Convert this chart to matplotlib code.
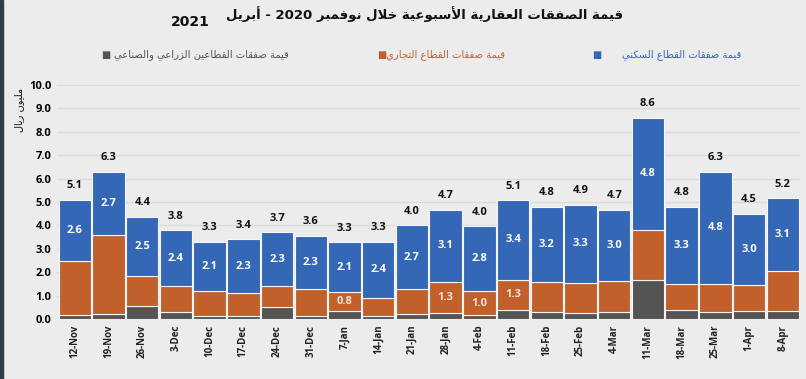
import re
import numpy as np
import matplotlib
matplotlib.use("Agg")
import matplotlib.pyplot as plt

# ---- data (million riyals) ----
weeks = ["12-Nov", "19-Nov", "26-Nov", "3-Dec", "10-Dec", "17-Dec", "24-Dec", "31-Dec",
         "7-Jan", "14-Jan", "21-Jan", "28-Jan", "4-Feb", "11-Feb", "18-Feb", "25-Feb",
         "4-Mar", "11-Mar", "18-Mar", "25-Mar", "1-Apr", "8-Apr"]
agri_ind = [0.18, 0.20, 0.55, 0.30, 0.15, 0.15, 0.50, 0.15, 0.35, 0.15, 0.20,
            0.28, 0.18, 0.38, 0.32, 0.28, 0.32, 1.65, 0.38, 0.30, 0.35, 0.35]
commercial = [2.32, 3.40, 1.30, 1.10, 1.05, 0.95, 0.90, 1.12, 0.80, 0.75, 1.10,
              1.30, 1.00, 1.30, 1.28, 1.27, 1.32, 2.15, 1.12, 1.20, 1.12, 1.72]
residential = [2.60, 2.70, 2.52, 2.40, 2.10, 2.30, 2.30, 2.30, 2.14, 2.40, 2.70,
               3.10, 2.80, 3.40, 3.20, 3.33, 3.04, 4.80, 3.30, 4.80, 3.03, 3.10]
commercial_labelled = ["7-Jan", "28-Jan", "4-Feb", "11-Feb"]

title_main = "قيمة الصفقات العقارية الأسبوعية خلال نوفمبر 2020 - أبريل"
title_year = "2021"
leg_res = "قيمة صفقات القطاع السكني"
leg_com = "قيمة صفقات القطاع التجاري"
leg_agr = "قيمة صفقات القطاعين الزراعي والصناعي"
y_title = "مليون ريال"

# ---- tiny arabic shaper (matplotlib has no text shaping) ----
# isolated, final, initial, medial
FORMS = {
    "ا": ("\uFE8D", "\uFE8E", None, None), "أ": ("\uFE83", "\uFE84", None, None),
    "ب": ("\uFE8F", "\uFE90", "\uFE91", "\uFE92"), "ة": ("\uFE93", "\uFE94", None, None),
    "ت": ("\uFE95", "\uFE96", "\uFE97", "\uFE98"), "ج": ("\uFE9D", "\uFE9E", "\uFE9F", "\uFEA0"),
    "خ": ("\uFEA5", "\uFEA6", "\uFEA7", "\uFEA8"), "ر": ("\uFEAD", "\uFEAE", None, None),
    "ز": ("\uFEAF", "\uFEB0", None, None), "س": ("\uFEB1", "\uFEB2", "\uFEB3", "\uFEB4"),
    "ص": ("\uFEB9", "\uFEBA", "\uFEBB", "\uFEBC"), "ط": ("\uFEC1", "\uFEC2", "\uFEC3", "\uFEC4"),
    "ع": ("\uFEC9", "\uFECA", "\uFECB", "\uFECC"), "ف": ("\uFED1", "\uFED2", "\uFED3", "\uFED4"),
    "ق": ("\uFED5", "\uFED6", "\uFED7", "\uFED8"), "ك": ("\uFED9", "\uFEDA", "\uFEDB", "\uFEDC"),
    "ل": ("\uFEDD", "\uFEDE", "\uFEDF", "\uFEE0"), "م": ("\uFEE1", "\uFEE2", "\uFEE3", "\uFEE4"),
    "ن": ("\uFEE5", "\uFEE6", "\uFEE7", "\uFEE8"), "و": ("\uFEED", "\uFEEE", None, None),
    "ي": ("\uFEF1", "\uFEF2", "\uFEF3", "\uFEF4"),
    "لا": ("\uFEFB", "\uFEFC", None, None), "لأ": ("\uFEF7", "\uFEF8", None, None),
}


def ar(s):
    toks, i = [], 0
    while i < len(s):
        if s[i] == "ل" and i + 1 < len(s) and s[i + 1] in "اأ":
            toks.append(s[i:i + 2]); i += 2
        else:
            toks.append(s[i]); i += 1
    out = []
    for k, t in enumerate(toks):
        if t not in FORMS:
            out.append(t); continue
        f = FORMS[t]
        prev = k > 0 and toks[k - 1] in FORMS and FORMS[toks[k - 1]][2] is not None
        nxt = f[2] is not None and k + 1 < len(toks) and toks[k + 1] in FORMS
        if prev and nxt:
            out.append(f[3])
        elif prev:
            out.append(f[1])
        elif nxt:
            out.append(f[2])
        else:
            out.append(f[0])
    vis = "".join(out)[::-1]
    return re.sub(r"[0-9.]+", lambda m: m.group()[::-1], vis)


BLUE = "#3467b5"
ORANGE = "#c2602c"
GRAY = "#545454"
BG = "#ececec"
AR = ["DejaVu Sans"]
NUM = ["Open Sans", "DejaVu Sans"]

fig = plt.figure(figsize=(8.06, 3.79), dpi=100, facecolor=BG)
ax = fig.add_axes([0.071, 0.158, 0.922, 0.618], facecolor=BG)

x = np.arange(len(weeks))
a = np.array(agri_ind)
c = np.array(commercial)
r = np.array(residential)
tot = a + c + r

kw = dict(width=0.96, edgecolor="#f4f6fa", linewidth=0.8, zorder=3)
ax.bar(x, a, color=GRAY, **kw)
ax.bar(x, c, bottom=a, color=ORANGE, **kw)
ax.bar(x, r, bottom=a + c, color=BLUE, **kw)

for i in range(len(weeks)):
    ax.text(x[i], a[i] + c[i] + r[i] / 2, f"{r[i]:.1f}", ha="center", va="center",
            color="white", fontsize=8, fontweight="bold", family=NUM, zorder=4)
    ax.annotate(f"{tot[i]:.1f}", (x[i], tot[i]), xytext=(0, 10), textcoords="offset points",
                ha="center", va="center", fontsize=8, fontweight="bold", family=NUM,
                color="#111111")
    if weeks[i] in commercial_labelled:
        ax.text(x[i], a[i] + c[i] / 2, f"{c[i]:.1f}", ha="center", va="center",
                color="#f3e3d8", fontsize=8, fontweight="bold", family=NUM, zorder=4)

ax.set_xlim(-0.52, len(weeks) - 0.48)
ax.set_ylim(0, 10)
ax.set_yticks(np.arange(0, 10.5, 1.0))
ax.set_yticklabels([f"{v:.1f}" for v in np.arange(0, 10.5, 1.0)], fontsize=8,
                   fontweight="bold", family=NUM)
ax.set_xticks(x)
ax.set_xticklabels(weeks, rotation=90, fontsize=7, fontweight="bold", family=NUM,
                   color="#222222")
ax.tick_params(length=0, pad=4)
ax.grid(axis="y", color="#dcdcdc", linewidth=1, zorder=0)
for s in ax.spines.values():
    s.set_visible(False)

fig.text(0.024, 0.71, ar(y_title), rotation=90, ha="center", va="center",
         fontsize=7, family=AR, color="#111111")

# title (wrapped: year drops to a second line on the left)
fig.text(0.527, 0.963, ar(title_main), ha="center", va="center", fontsize=9.5,
         fontweight="bold", family=AR, color="#111111")
fig.text(0.236, 0.942, title_year, ha="center", va="center", fontsize=10,
         fontweight="bold", family=AR, color="#111111")

# legend drawn by hand, right to left: (text, colour, square x, text x)
legend = [(leg_res, BLUE, 0.735, 0.772), (leg_com, ORANGE, 0.468, 0.479),
          (leg_agr, GRAY, 0.126, 0.142)]
for label, col, xs, xt in legend:
    fig.text(xs, 0.855, "■", ha="left", va="center", fontsize=7, color=col, family=AR)
    fig.text(xt, 0.855, ar(label), ha="left", va="center", fontsize=7.2,
             color=col, family=AR)

# dark frame strip at the left edge
fig.add_artist(plt.Rectangle((0, 0), 0.004, 1, transform=fig.transFigure,
                             color="#333a40", zorder=10))

fig.savefig("out.png", dpi=100, facecolor=BG)
